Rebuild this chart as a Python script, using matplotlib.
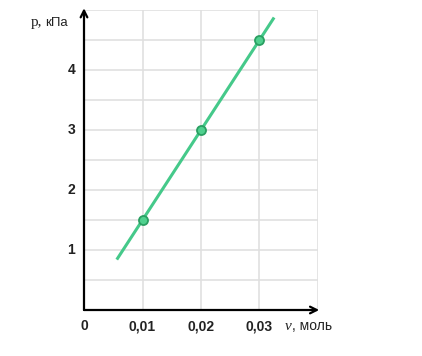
import matplotlib
matplotlib.use("Agg")
import matplotlib.pyplot as plt

# data
nu_points = [0.01, 0.02, 0.03]
p_points = [1.5, 3.0, 4.5]
nu_line = [0.0056, 0.0325]
p_line = [0.84, 4.875]
x_ticks = [0.01, 0.02, 0.03]
x_labels = ["0,01", "0,02", "0,03"]
y_ticks = [1, 2, 3, 4]
y_labels = ["1", "2", "3", "4"]

plt.rcParams['font.family'] = ['Liberation Sans', 'DejaVu Sans']

fig = plt.figure(figsize=(4.22, 3.56), dpi=100)
ax = fig.add_axes([84 / 422, 1 - 310 / 356, 234 / 422, 300 / 356])
ax.set_xlim(0, 0.04)
ax.set_ylim(0, 5)

grid_c = "#e0e0e0"
for gx in [0.01, 0.02, 0.03, 0.04]:
    ax.axvline(gx, color=grid_c, lw=1.2, zorder=0)
for i in range(1, 11):
    ax.axhline(i * 0.5, color=grid_c, lw=1.2, zorder=0)

for s in ax.spines.values():
    s.set_visible(False)
ax.set_xticks([])
ax.set_yticks([])

# axes with arrows
ax.annotate("", xy=(0, 5.03), xytext=(0, 0), xycoords="data",
            arrowprops=dict(arrowstyle="->", color="black", lw=1.6,
                            mutation_scale=12, shrinkA=0, shrinkB=0),
            annotation_clip=False)
ax.annotate("", xy=(0.0402, 0), xytext=(0, 0), xycoords="data",
            arrowprops=dict(arrowstyle="->", color="black", lw=1.6,
                            mutation_scale=12, shrinkA=0, shrinkB=0),
            annotation_clip=False)

green = "#45c98a"
ax.plot(nu_line, p_line, color=green, lw=2.2, zorder=3, solid_capstyle="butt")
ax.plot(nu_points, p_points, "o", ms=6.5, mfc="#4fd08e", mec="#2a9f62",
        mew=1.3, zorder=4, clip_on=False)

lab = dict(fontsize=10, fontweight="bold", color="#222222")
for x, t in zip(x_ticks, x_labels):
    ax.text(x, -0.27, t, ha="center", va="center", **lab)
ax.text(0, -0.27, "0", ha="center", va="center", **lab)
for y, t in zip(y_ticks, y_labels):
    ax.text(-0.0022, y, t, ha="center", va="center", **lab)

ax.text(-0.0091, 4.79, "p,", ha="left", va="center", fontsize=11,
        color="#222222", family=["Liberation Serif", "DejaVu Serif"])
ax.text(-0.0066, 4.79, "кПа", ha="left", va="center", fontsize=9.5,
        color="#222222")
ax.text(0.0343, -0.27, "ν", ha="left", va="center", fontsize=11,
        style="italic", color="#222222", family=["Liberation Serif", "DejaVu Serif"])
ax.text(0.0355, -0.27, ", моль", ha="left", va="center", fontsize=10,
        color="#222222")

fig.savefig("out.png", dpi=100)
